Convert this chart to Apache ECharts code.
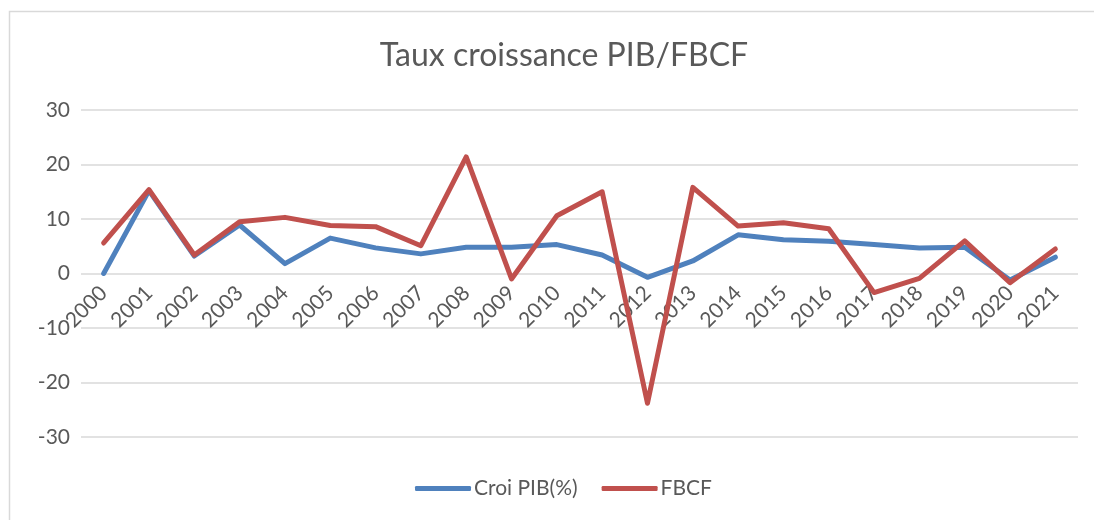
<!DOCTYPE html>
<html>
<head>
<meta charset="utf-8">
<script src="https://cdn.jsdelivr.net/npm/echarts@6/dist/echarts.min.js"></script>
<style>
  html, body { margin: 0; padding: 0; background: #fff; }
  #chart { width: 1094px; height: 520px; }
</style>
</head>
<body>
<div id="chart"></div>
<script>
// données
const years = ['2000', '2001', '2002', '2003', '2004', '2005', '2006', '2007', '2008', '2009', '2010',
  '2011', '2012', '2013', '2014', '2015', '2016', '2017', '2018', '2019', '2020', '2021'];
const croiPib = [0, 15.2, 3.2, 8.9, 1.8, 6.5, 4.7, 3.6, 4.8, 4.8, 5.3,
  3.4, -0.7, 2.3, 7.1, 6.2, 5.9, 5.3, 4.7, 4.8, -1.2, 3.0];
const fbcf = [5.6, 15.4, 3.4, 9.5, 10.3, 8.8, 8.6, 5.1, 21.4, -1.0, 10.6,
  15.0, -23.8, 15.8, 8.7, 9.3, 8.2, -3.5, -0.9, 6.0, -1.7, 4.5];
const yTicks = [-30, 30, 10]; // min, max, interval

const font = 'Lato, sans-serif';
const textColor = '#595959';

const myChart = echarts.init(document.getElementById('chart'), null, { renderer: 'canvas' });
const option = {
  animation: false,
  backgroundColor: '#fff',
  color: ['#4f81bd', '#c0504d'],
  title: {
    text: 'Taux croissance PIB/FBCF',
    left: 559,
    top: 35,
    textAlign: 'center',
    textStyle: {
      fontFamily: font,
      fontSize: 32,
      fontWeight: 'normal',
      color: textColor
    }
  },
  graphic: [
    {
      type: 'rect',
      shape: { x: 9.5, y: 11.5, width: 1200, height: 600 },
      style: { fill: 'none', stroke: '#d9d9d9', lineWidth: 1.5 },
      silent: true
    }
  ],
  legend: {
    data: ['Croi PIB(%)', 'FBCF'],
    top: 473,
    left: 410,
    itemWidth: 56,
    itemHeight: 5,
    itemGap: 24,
    icon: 'roundRect',
    textStyle: {
      fontFamily: font,
      fontSize: 21,
      color: textColor,
      padding: [0, 0, 0, -2]
    }
  },
  grid: {
    left: 81,
    right: 16,
    top: 110,
    bottom: 83,
    containLabel: false
  },
  xAxis: {
    type: 'category',
    data: years,
    boundaryGap: true,
    position: 'bottom',
    offset: -163.5,
    axisLine: { show: false, onZero: false },
    axisTick: { show: false },
    splitLine: { show: false },
    axisLabel: {
      rotate: 45,
      interval: 0,
      margin: 16,
      fontFamily: font,
      fontSize: 21,
      color: textColor
    }
  },
  yAxis: {
    type: 'value',
    min: yTicks[0],
    max: yTicks[1],
    interval: yTicks[2],
    axisLine: { show: false },
    axisTick: { show: false },
    splitLine: { lineStyle: { color: '#d9d9d9', width: 1.5 } },
    axisLabel: {
      margin: 11,
      fontFamily: font,
      fontSize: 21,
      color: textColor
    }
  },
  series: [
    {
      name: 'Croi PIB(%)',
      type: 'line',
      data: croiPib,
      symbol: 'none',
      lineStyle: { width: 5, cap: 'round', join: 'round' }
    },
    {
      name: 'FBCF',
      type: 'line',
      data: fbcf,
      symbol: 'none',
      lineStyle: { width: 5, cap: 'round', join: 'round' }
    }
  ]
};
if (option && typeof option === 'object') {
  myChart.clear();
  myChart.setOption(option, true);
}
</script>
</body>
</html>
